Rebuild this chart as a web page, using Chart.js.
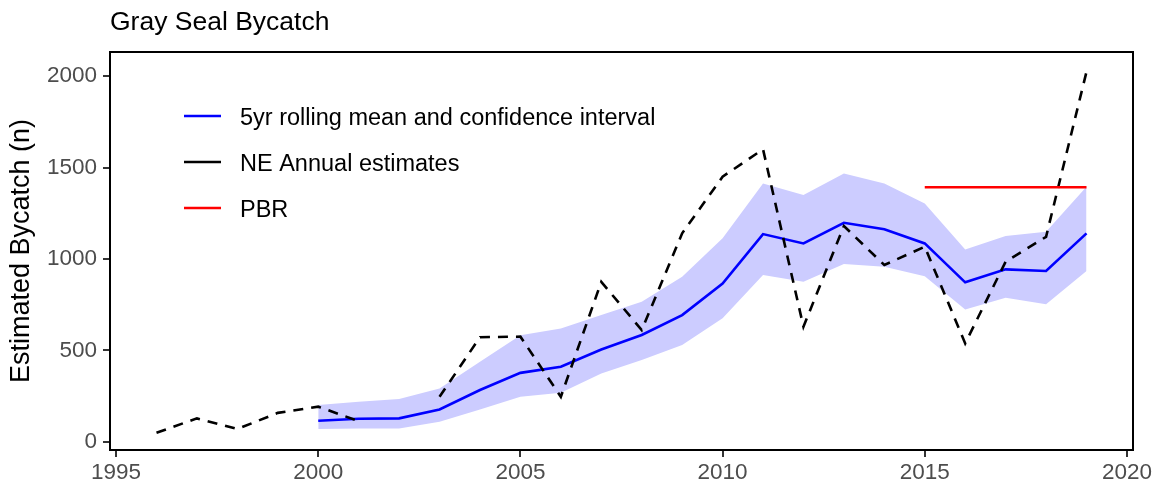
<!DOCTYPE html>
<html>
<head>
<meta charset="utf-8">
<script src="https://cdn.jsdelivr.net/npm/chart.js@4"></script>
<style>
  html, body { margin: 0; padding: 0; background: #fff; }
  #wrap { width: 1156px; height: 487px; }
</style>
</head>
<body>
<div id="wrap"><canvas id="sealChart" width="1156" height="487"></canvas></div>
<script>
// NE annual estimates (2002 missing)
const annualYears = [1996, 1997, 1998, 1999, 2000, 2001, 2002, 2003, 2004, 2005, 2006, 2007,
                     2008, 2009, 2010, 2011, 2012, 2013, 2014, 2015, 2016, 2017, 2018, 2019];
const annualValues = [49, 128, 70, 158, 192, 113, null, 246, 572, 575, 246, 875,
                      611, 1140, 1450, 1600, 629, 1180, 967, 1067, 538, 985, 1121, 2024];

// 5yr rolling mean and its confidence interval
const meanYears = [2000, 2001, 2002, 2003, 2004, 2005, 2006, 2007, 2008, 2009,
                   2010, 2011, 2012, 2013, 2014, 2015, 2016, 2017, 2018, 2019];
const meanValues = [115, 126, 128, 177, 283, 377, 410, 505, 584, 693,
                    866, 1136, 1085, 1198, 1163, 1085, 872, 943, 934, 1140];
const upperValues = [201, 219, 234, 292, 438, 582, 620, 693, 766, 903,
                     1113, 1413, 1350, 1468, 1413, 1304, 1052, 1125, 1149, 1395];
const lowerValues = [70, 73, 73, 109, 177, 246, 268, 374, 447, 529,
                     675, 912, 875, 972, 957, 906, 724, 788, 752, 934];

// PBR
const pbrYears = [2015, 2019];
const pbrValues = [1392, 1392];

const xTicks = [1995, 2000, 2005, 2010, 2015, 2020];
const yTicks = [0, 500, 1000, 1500, 2000];

const legendItems = [
  { label: '5yr rolling mean and confidence interval', color: '#0000ff' },
  { label: 'NE Annual estimates', color: '#000000' },
  { label: 'PBR', color: '#ff0000' },
];

const pts = (xs, ys) => xs.map((x, i) => ({ x, y: ys[i] }));

const FONT = 'Liberation Sans, Arial, Helvetica, sans-serif';

const boxAndLegend = {
  id: 'boxAndLegend',
  afterDraw(chart) {
    const { ctx, chartArea: a } = chart;
    ctx.save();
    ctx.strokeStyle = '#000';
    ctx.lineWidth = 2;
    ctx.strokeRect(a.left, a.top, a.right - a.left, a.bottom - a.top);

    ctx.font = '26.5px ' + FONT;
    ctx.fillStyle = '#000';
    ctx.textBaseline = 'alphabetic';
    ctx.textAlign = 'left';
    ctx.fillText('Gray Seal Bycatch', 110, 30);

    ctx.font = '23.5px ' + FONT;
    legendItems.forEach((it, i) => {
      const y = 116 + i * 46;
      ctx.strokeStyle = it.color;
      ctx.lineWidth = 2.7;
      ctx.beginPath();
      ctx.moveTo(184, y);
      ctx.lineTo(221, y);
      ctx.stroke();
      ctx.fillStyle = '#000';
      ctx.fillText(it.label, 240, y + 8.5);
    });
    ctx.restore();
  }
};

new Chart(document.getElementById('sealChart'), {
  type: 'line',
  data: {
    datasets: [
      {
        label: 'lower',
        data: pts(meanYears, lowerValues),
        borderWidth: 0,
        pointRadius: 0,
        fill: false,
        order: 10,
      },
      {
        label: 'upper',
        data: pts(meanYears, upperValues),
        borderWidth: 0,
        pointRadius: 0,
        backgroundColor: '#ccccff',
        fill: '-1',
        order: 9,
      },
      {
        label: '5yr rolling mean and confidence interval',
        data: pts(meanYears, meanValues),
        borderColor: '#0000ff',
        borderWidth: 2.6,
        pointRadius: 0,
        fill: false,
        order: 3,
      },
      {
        label: 'NE Annual estimates',
        data: pts(annualYears, annualValues),
        borderColor: '#000000',
        borderWidth: 2.6,
        borderDash: [10, 8],
        pointRadius: 0,
        spanGaps: false,
        fill: false,
        order: 1,
      },
      {
        label: 'PBR',
        data: pts(pbrYears, pbrValues),
        borderColor: '#ff0000',
        borderWidth: 2.6,
        pointRadius: 0,
        fill: false,
        order: 0,
      },
    ],
  },
  options: {
    responsive: false,
    animation: false,
    devicePixelRatio: 1,
    layout: { padding: { top: 52, right: 23, left: 0, bottom: 0 } },
    plugins: { legend: { display: false }, tooltip: { enabled: false } },
    elements: { line: { tension: 0 } },
    scales: {
      x: {
        type: 'linear',
        min: 1994.85,
        max: 2020.15,
        afterBuildTicks: (s) => { s.ticks = xTicks.map((v) => ({ value: v })); },
        afterFit: (s) => { s.height = 37; },
        border: { display: false },
        grid: { drawOnChartArea: false, drawTicks: true, tickLength: 7, color: '#333', lineWidth: 2 },
        ticks: {
          color: '#4d4d4d', font: { family: FONT, size: 22.5 }, padding: 2, maxRotation: 0,
          callback: (v) => String(v),
        },
      },
      y: {
        type: 'linear',
        min: -45,
        max: 2132,
        afterBuildTicks: (s) => { s.ticks = yTicks.map((v) => ({ value: v })); },
        afterFit: (s) => { s.width = 110; },
        border: { display: false },
        grid: { drawOnChartArea: false, drawTicks: true, tickLength: 7, color: '#333', lineWidth: 2 },
        ticks: {
          color: '#4d4d4d', font: { family: FONT, size: 22.5 }, padding: 6,
          callback: (v) => String(v),
        },
        title: {
          display: true,
          text: 'Estimated Bycatch (n)',
          color: '#000',
          font: { family: FONT, size: 27 },
          padding: { top: 5, bottom: 0 },
        },
      },
    },
  },
  plugins: [boxAndLegend],
});
</script>
</body>
</html>
